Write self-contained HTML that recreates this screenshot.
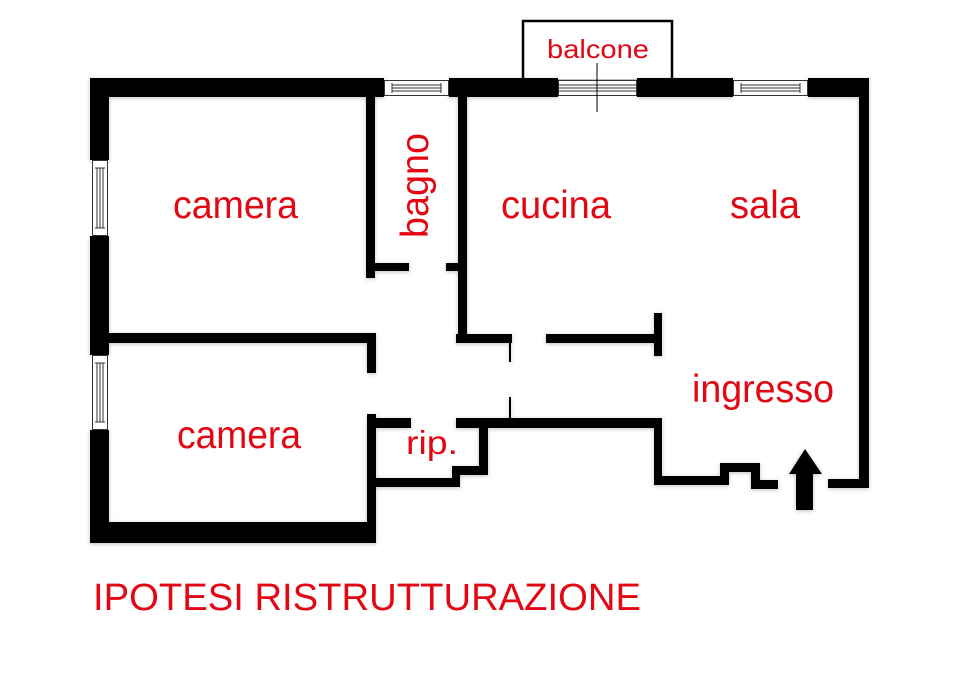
<!DOCTYPE html>
<html><head><meta charset="utf-8"><style>html,body{margin:0;padding:0;background:#fff}svg{display:block}</style></head>
<body>
<svg width="960" height="679" viewBox="0 0 960 679" xmlns="http://www.w3.org/2000/svg">
<defs><filter id="sh" x="-5%" y="-5%" width="110%" height="110%"><feDropShadow dx="0" dy="1" stdDeviation="2" flood-color="#000" flood-opacity="0.25"/></filter></defs>
<rect x="523" y="21" width="149" height="60" fill="#fff" stroke="#000" stroke-width="2.5"/>
<line x1="597" y1="63" x2="597" y2="112" stroke="#000" stroke-width="1"/>
<g fill="#000" filter="url(#sh)">
<rect x="90" y="78" width="294" height="19"/>
<rect x="449" y="78" width="109" height="19"/>
<rect x="637" y="78" width="96" height="19"/>
<rect x="808" y="78" width="61" height="19"/>
<rect x="90" y="78" width="19" height="82"/>
<rect x="90" y="236" width="19" height="119"/>
<rect x="90" y="430" width="19" height="113"/>
<rect x="90" y="522" width="286" height="21"/>
<rect x="859" y="78" width="10" height="410"/>
<rect x="828" y="479" width="41" height="9"/>
<rect x="366" y="97" width="9" height="181"/>
<rect x="375" y="263" width="34" height="8"/>
<rect x="458" y="97" width="9" height="246"/>
<rect x="446" y="263" width="12" height="8"/>
<rect x="456" y="334" width="56" height="9"/>
<rect x="509" y="343" width="2" height="19"/>
<rect x="546" y="334" width="110" height="9"/>
<rect x="654" y="313" width="8" height="43"/>
<rect x="109" y="333" width="267" height="10"/>
<rect x="367" y="333" width="9" height="40"/>
<rect x="367" y="414" width="9" height="129"/>
<rect x="376" y="418" width="35" height="10"/>
<rect x="456" y="418" width="206" height="10"/>
<rect x="509" y="397" width="2" height="21"/>
<rect x="479" y="418" width="9" height="57"/>
<rect x="452" y="466" width="36" height="9"/>
<rect x="452" y="466" width="8" height="21"/>
<rect x="376" y="478" width="84" height="9"/>
<rect x="654" y="418" width="8" height="67"/>
<rect x="654" y="476" width="75" height="9"/>
<rect x="720" y="463" width="9" height="22"/>
<rect x="720" y="463" width="40" height="9"/>
<rect x="751" y="463" width="9" height="26"/>
<rect x="751" y="480" width="27" height="9"/>
<polygon points="805,449 822,474 813,474 813,510 796,510 796,474 789,474"/>
</g>
<g fill="#fff" stroke="#333" stroke-width="1">
<rect x="384.5" y="80.5" width="64" height="15"/>
<rect x="558.5" y="80.5" width="78" height="15"/>
<rect x="733.5" y="80.5" width="74" height="15"/>
<rect x="92.5" y="160.5" width="15" height="75"/>
<rect x="92.5" y="355.5" width="15" height="74"/>
</g>
<g stroke="#333" stroke-width="1">
<line x1="392" y1="85" x2="441" y2="85"/><line x1="392" y1="88" x2="441" y2="88"/><line x1="392" y1="91" x2="441" y2="91"/>
<line x1="392" y1="83" x2="392" y2="93"/><line x1="441" y1="83" x2="441" y2="93"/>
<line x1="559" y1="85" x2="636" y2="85"/><line x1="559" y1="88" x2="636" y2="88"/><line x1="559" y1="91" x2="636" y2="91"/>
<line x1="741" y1="85" x2="800" y2="85"/><line x1="741" y1="88" x2="800" y2="88"/><line x1="741" y1="91" x2="800" y2="91"/>
<line x1="741" y1="83" x2="741" y2="93"/><line x1="800" y1="83" x2="800" y2="93"/>
<line x1="97" y1="168" x2="97" y2="228"/><line x1="100" y1="168" x2="100" y2="228"/><line x1="103" y1="168" x2="103" y2="228"/>
<line x1="95" y1="168" x2="105" y2="168"/><line x1="95" y1="228" x2="105" y2="228"/>
<line x1="97" y1="363" x2="97" y2="422"/><line x1="100" y1="363" x2="100" y2="422"/><line x1="103" y1="363" x2="103" y2="422"/>
<line x1="95" y1="363" x2="105" y2="363"/><line x1="95" y1="422" x2="105" y2="422"/>
</g>
<line x1="597" y1="78" x2="597" y2="112" stroke="#000" stroke-width="1"/>
<g fill="#e30613" font-family="Liberation Sans, sans-serif">
<text x="173" y="218" font-size="39" textLength="125" lengthAdjust="spacingAndGlyphs">camera</text>
<text x="177" y="448" font-size="39" textLength="124" lengthAdjust="spacingAndGlyphs">camera</text>
<text x="501" y="218" font-size="39" textLength="110" lengthAdjust="spacingAndGlyphs">cucina</text>
<text x="730" y="218" font-size="39" textLength="70" lengthAdjust="spacingAndGlyphs">sala</text>
<text x="692" y="402" font-size="39" textLength="142" lengthAdjust="spacingAndGlyphs">ingresso</text>
<text x="406" y="454" font-size="33" textLength="52" lengthAdjust="spacingAndGlyphs">rip.</text>
<text x="547" y="58" font-size="26" textLength="102" lengthAdjust="spacingAndGlyphs">balcone</text>
<text transform="translate(428,238) rotate(-90)" font-size="39" textLength="105" lengthAdjust="spacingAndGlyphs">bagno</text>
<text x="93" y="610" font-size="38" textLength="548" lengthAdjust="spacingAndGlyphs">IPOTESI RISTRUTTURAZIONE</text>
</g>
</svg>
</body></html>
